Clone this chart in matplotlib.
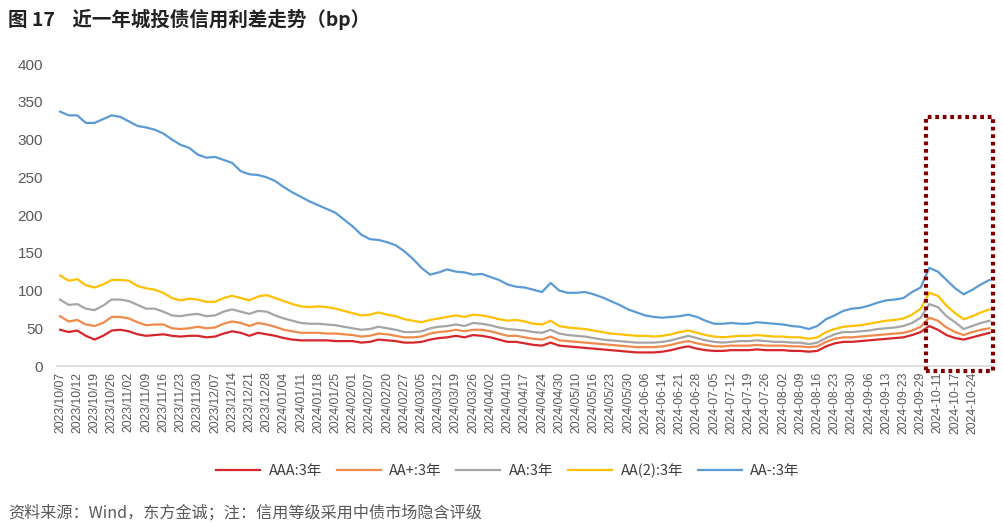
import matplotlib
matplotlib.use('Agg')
import matplotlib.pyplot as plt
from matplotlib.patches import Rectangle

# tick labels, one every two data points
date_labels = [
    '2023/10/07', '2023/10/12', '2023/10/19', '2023/10/26', '2023/11/02', '2023/11/09',
    '2023/11/16', '2023/11/23', '2023/11/30', '2023/12/07', '2023/12/14', '2023/12/21',
    '2023/12/28', '2024/01/04', '2024/01/11', '2024/01/18', '2024/01/25', '2024/02/01',
    '2024/02/07', '2024/02/20', '2024/02/27', '2024/03/05', '2024/03/12', '2024/03/19',
    '2024/03/26', '2024/04/02', '2024/04/10', '2024/04/17', '2024/04/24', '2024/04/30',
    '2024/05/10', '2024/05/16', '2024/05/23', '2024/05/30', '2024-06-06', '2024-06-14',
    '2024-06-21', '2024-06-28', '2024-07-05', '2024-07-12', '2024-07-19', '2024-07-26',
    '2024-08-02', '2024-08-09', '2024-08-16', '2024-08-23', '2024-08-30', '2024-09-06',
    '2024-09-13', '2024-09-23', '2024-09-29', '2024-10-11', '2024-10-17', '2024-10-24',
]

aaa = [48, 45, 47, 40, 35, 40, 47, 48, 46, 42, 40, 41, 42, 40, 39, 40, 40, 38, 39, 43,
       46, 44, 40, 44, 42, 40, 37, 35, 34, 34, 34, 34, 33, 33, 33, 31, 32, 35, 34, 33,
       31, 31, 32, 35, 37, 38, 40, 38, 41, 40, 38, 35, 32, 32, 30, 28, 27, 31, 27, 26,
       25, 24, 23, 22, 21, 20, 19, 18, 18, 18, 19, 21, 24, 26, 23, 21, 20, 20, 21, 21,
       21, 22, 21, 21, 21, 20, 20, 19, 20, 26, 30, 32, 32, 33, 34, 35, 36, 37, 38, 41,
       45, 53, 48, 41, 37, 35, 38, 41, 44]
aa_plus = [66, 59, 61, 55, 53, 57, 65, 65, 63, 58, 54, 55, 55, 50, 49, 50, 52, 50, 51, 56,
           59, 57, 53, 57, 55, 52, 48, 46, 44, 44, 44, 43, 43, 42, 41, 39, 40, 43, 42, 40,
           38, 38, 39, 43, 45, 46, 48, 46, 48, 48, 46, 43, 40, 40, 38, 36, 35, 39, 34, 33,
           32, 31, 30, 29, 28, 27, 26, 25, 25, 25, 26, 28, 31, 33, 30, 28, 26, 26, 27, 27,
           27, 28, 27, 27, 27, 26, 26, 25, 26, 32, 36, 38, 38, 39, 40, 41, 42, 43, 44, 47,
           52, 64, 60, 51, 45, 41, 45, 48, 50]
aa = [88, 81, 82, 76, 74, 80, 88, 88, 86, 81, 76, 76, 72, 67, 66, 68, 69, 66, 67, 72,
      75, 72, 69, 73, 72, 67, 63, 60, 57, 56, 56, 55, 54, 52, 50, 48, 49, 52, 50, 48,
      45, 45, 46, 50, 52, 53, 55, 53, 57, 56, 54, 51, 49, 48, 47, 45, 44, 48, 43, 41,
      40, 39, 37, 35, 34, 33, 32, 31, 31, 31, 32, 34, 37, 40, 37, 34, 32, 31, 32, 33,
      33, 34, 33, 32, 32, 31, 31, 29, 31, 37, 42, 45, 45, 46, 47, 49, 50, 51, 53, 57,
      64, 82, 78, 66, 58, 49, 53, 57, 60]
aa2 = [120, 113, 115, 107, 104, 108, 114, 114, 113, 106, 103, 101, 97, 90, 87, 89, 88, 85, 85, 90,
       93, 90, 87, 92, 94, 90, 86, 82, 79, 78, 79, 78, 76, 73, 70, 67, 68, 71, 68, 66,
       62, 60, 58, 61, 63, 65, 67, 65, 68, 67, 65, 62, 60, 61, 59, 56, 55, 60, 53, 51,
       50, 49, 47, 45, 43, 42, 41, 40, 40, 39, 40, 42, 45, 47, 44, 41, 39, 38, 39, 40,
       40, 41, 40, 39, 39, 38, 38, 36, 38, 45, 49, 52, 53, 54, 56, 58, 60, 61, 63, 68,
       76, 97, 93, 80, 70, 62, 66, 71, 75]
aa_minus = [337, 332, 332, 322, 322, 327, 332, 330, 324, 318, 316, 313, 308, 300, 293, 289, 280, 276, 277, 273,
            269, 258, 254, 253, 250, 245, 237, 230, 224, 218, 213, 208, 203, 194, 185, 174, 168, 167, 164, 160,
            152, 142, 130, 121, 124, 128, 125, 124, 121, 122, 118, 114, 108, 105, 104, 101, 98, 110, 100, 97,
            97, 98, 95, 91, 86, 81, 75, 71, 67, 65, 64, 65, 66, 68, 65, 60, 56, 56, 57, 56,
            56, 58, 57, 56, 55, 53, 52, 49, 53, 62, 67, 73, 76, 77, 80, 84, 87, 88, 90, 98,
            104, 130, 125, 114, 103, 95, 101, 108, 114]

series_names = ['AAA:3年', 'AA+:3年', 'AA:3年', 'AA(2):3年', 'AA-:3年']
series_vals = [aaa, aa_plus, aa, aa2, aa_minus]
colors = ['#D7262B', '#F08A4B', '#A5A5A5', '#FFC000', '#5B9BD5']

cjk = ['Noto Sans CJK SC', 'DejaVu Sans']
plt.rcParams['font.family'] = ['Liberation Sans', 'Noto Sans CJK SC', 'DejaVu Sans']

fig = plt.figure(figsize=(10.04, 5.30), dpi=100)
ax = fig.add_axes([0.0568, 0.3094, 0.9322, 0.5698])

x = list(range(len(aaa)))
for name, vals, c in zip(series_names, series_vals, colors):
    ax.plot(x, vals, color=c, lw=1.6, label=name)

ax.set_ylim(0, 400)
ax.set_yticks(range(0, 401, 50))
ax.set_xlim(-0.35, 108.4)
ax.set_xticks(range(0, 2 * len(date_labels), 2))
ax.set_xticklabels(date_labels, rotation=90, fontsize=8.8, color='#595959')
ax.tick_params(axis='y', labelsize=11, colors='#595959', length=0, pad=10)
ax.tick_params(axis='x', length=0, pad=4)
for s in ['top', 'right', 'left']:
    ax.spines[s].set_visible(False)
ax.spines['bottom'].set_color('#D9D9D9')
ax.spines['bottom'].set_linewidth(1.2)

# highlight box around the latest period
box = Rectangle((100.6, -6), 7.8, 336, fill=False, edgecolor='#800000', lw=3,
                linestyle=(0, (0.9, 0.9)), clip_on=False, zorder=5)
ax.add_patch(box)

leg = fig.legend(loc='center', bbox_to_anchor=(0.506, 0.112), ncol=5, frameon=False,
                 prop={'family': cjk, 'size': 10.5}, handlelength=3.0, columnspacing=1.0,
                 handletextpad=0.6)
for t in leg.get_texts():
    t.set_color('#404040')

fig.text(0.008, 0.963, '图 17    近一年城投债信用利差走势（bp）', family=cjk, fontsize=14,
         fontweight='bold', color='#222222', va='center')
fig.text(0.008, 0.033, '资料来源：Wind，东方金诚；注：信用等级采用中债市场隐含评级', family=cjk,
         fontsize=11.6, color='#595959', va='center')

fig.savefig('out.png', dpi=100)
